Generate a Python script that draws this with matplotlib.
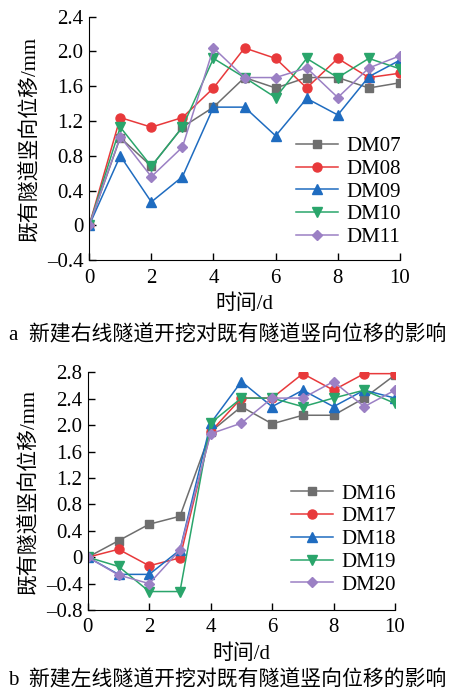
import numpy as np
import matplotlib
matplotlib.use("Agg")
import matplotlib.pyplot as plt
from matplotlib.ticker import FuncFormatter

plt.rcParams['font.family'] = ['Liberation Serif', 'Noto Sans CJK SC']
plt.rcParams['font.size'] = 15
plt.rcParams['axes.unicode_minus'] = True

days = list(range(11))

# panel a
names_a = ["DM07", "DM08", "DM09", "DM10", "DM11"]
dm07 = [0, 1.01, 0.68, 1.13, 1.36, 1.70, 1.58, 1.70, 1.70, 1.58, 1.64]
dm08 = [0, 1.24, 1.13, 1.24, 1.58, 2.04, 1.92, 1.58, 1.92, 1.70, 1.75]
dm09 = [0, 0.80, 0.27, 0.56, 1.36, 1.36, 1.03, 1.46, 1.27, 1.71, 1.90]
dm10 = [0, 1.13, 0.68, 1.13, 1.92, 1.70, 1.47, 1.92, 1.70, 1.92, 1.80]
dm11 = [0, 1.02, 0.56, 0.90, 2.04, 1.70, 1.70, 1.81, 1.47, 1.81, 1.95]

# panel b
names_b = ["DM16", "DM17", "DM18", "DM19", "DM20"]
dm16 = [0, 0.25, 0.50, 0.62, 1.90, 2.28, 2.02, 2.15, 2.15, 2.41, 2.76]
dm17 = [0, 0.12, -0.13, -0.01, 1.90, 2.41, 2.41, 2.78, 2.53, 2.78, 2.78]
dm18 = [0, -0.26, -0.26, 0.11, 2.03, 2.66, 2.28, 2.53, 2.28, 2.53, 2.41]
dm19 = [0, -0.14, -0.52, -0.52, 2.03, 2.41, 2.41, 2.28, 2.41, 2.53, 2.33]
dm20 = [0, -0.27, -0.40, 0.11, 1.87, 2.03, 2.41, 2.41, 2.66, 2.28, 2.53]

colors = ['#6e6e6e', '#e8393b', '#1f6cc0', '#2aa56b', '#9b80c4']
markers = ['s', 'o', '^', 'v', 'D']
msizes = [5.5, 6.5, 6.5, 6.5, 5.5]


def fmt(v, pos):
    if abs(v) < 1e-9:
        return '0'
    return ('%.1f' % v).replace('-', '\u2013')


def draw(ax, series, names, ylim, yticks, legend_y):
    for s, n, c, m, ms in zip(series, names, colors, markers, msizes):
        ax.plot(days, s, color=c, marker=m, markersize=ms, linewidth=1.1, label=n)
    ax.set_xlim(0, 10)
    ax.set_ylim(*ylim)
    ax.set_xticks([0, 2, 4, 6, 8, 10])
    ax.set_yticks(yticks)
    ax.yaxis.set_major_formatter(FuncFormatter(fmt))
    ax.spines['top'].set_visible(False)
    ax.spines['right'].set_visible(False)
    ax.tick_params(direction='in', length=5, width=1, labelsize=15)
    ax.tick_params(axis='x', pad=6)
    ax.tick_params(axis='y', pad=4)
    ax.set_xlabel('时间/d', fontsize=15, labelpad=5)
    ax.set_ylabel('既有隧道竖向位移/mm', fontsize=15, labelpad=5)
    ax.legend(loc='lower right', bbox_to_anchor=(1.03, legend_y), frameon=False,
              fontsize=15, handlelength=2.0, labelspacing=0.15, borderaxespad=0,
              handletextpad=0.4)


fig = plt.figure(figsize=(4.55, 6.94), dpi=100)
ax1 = fig.add_axes([0.196, 0.625, 0.683, 0.351])
ax2 = fig.add_axes([0.193, 0.121, 0.675, 0.3425])

draw(ax1, [dm07, dm08, dm09, dm10, dm11], names_a, (-0.4, 2.4),
     np.arange(-0.4, 2.41, 0.4), 0.02)
draw(ax2, [dm16, dm17, dm18, dm19, dm20], names_b, (-0.8, 2.8),
     np.arange(-0.8, 2.81, 0.4), 0.03)

fig.text(0.5, 1 - 335 / 694, 'a  新建右线隧道开挖对既有隧道竖向位移的影响',
         ha='center', va='center', fontsize=15)
fig.text(0.5, 1 - 680 / 694, 'b  新建左线隧道开挖对既有隧道竖向位移的影响',
         ha='center', va='center', fontsize=15)

fig.savefig('out.png', dpi=100)
